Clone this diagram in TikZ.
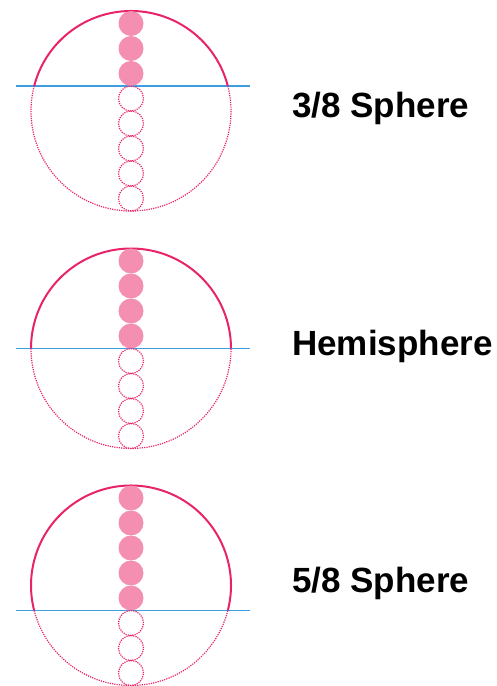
\documentclass[tikz,border=0pt]{standalone}
\usepackage{fontspec}
\setmainfont{Liberation Sans}
\usetikzlibrary{calc}
\definecolor{ringc}{HTML}{E8236A}
\definecolor{ballc}{HTML}{F48FB1}
\definecolor{cutc}{HTML}{3D9FE0}
\tikzset{
  solidring/.style={draw=ringc, line width=2pt},
  dotring/.style={draw=ringc, line width=1.2pt, dash pattern=on 1.2pt off 1.1pt},
  ballfull/.style={fill=ballc},
  ballempty/.style={draw=ringc, line width=1.2pt, dash pattern=on 1.2pt off 1.1pt},
  cutline/.style={draw=cutc, line width=1.8pt},
  lbl/.style={anchor=base west, inner sep=0pt, font=\fontsize{35}{40}\selectfont\bfseries}
}
\begin{document}
\begin{tikzpicture}[x=1pt,y=1pt]
\useasboundingbox (0,0) rectangle (497,686);
\foreach \cy/\off/\n/\sa/\ea/\name in {575/25/3/14.4775/165.5225/a, 337.5/0/4/0/180/b, 100.5/-25/5/-14.4775/194.4775/c}{
  \coordinate (ctr\name) at (131,\cy);
  \coordinate (cutL\name) at (16,\cy+\off);
  \coordinate (cutR\name) at (250,\cy+\off);
  \draw[cutline] (cutL\name) -- (cutR\name);
  \draw[dotring] (ctr\name) ++(\ea:100) arc[start angle=\ea, end angle=\sa+360, radius=100];
  \draw[solidring] (ctr\name) ++(\sa:100) arc[start angle=\sa, end angle=\ea, radius=100];
  \foreach \k in {0,...,7}{
    \pgfmathtruncatemacro{\full}{\k<\n ? 1 : 0}
    \ifnum\full=1
      \fill[ballfull] ($(ctr\name)+(0,87.5-25*\k)$) circle[radius=12.5];
    \else
      \draw[ballempty] ($(ctr\name)+(0,87.5-25*\k)$) circle[radius=12.5];
    \fi
  }
}
\node[lbl] (la) at (292,686-117.7) {3/8 Sphere};
\node[lbl] (lb) at (292,686-356) {Hemisphere};
\node[lbl] (lc) at (292,686-592.7) {5/8 Sphere};
\end{tikzpicture}
\end{document}
